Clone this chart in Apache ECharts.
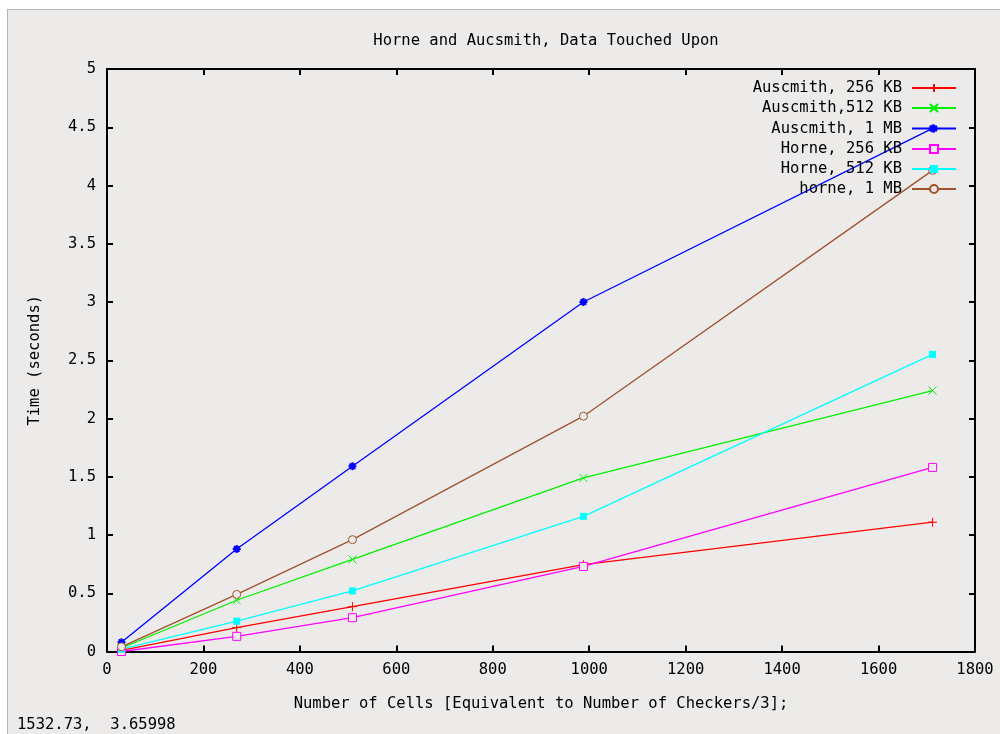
<!DOCTYPE html>
<html>
<head>
<meta charset="utf-8">
<script src="https://cdn.jsdelivr.net/npm/echarts@6/dist/echarts.min.js"></script>
<style>
html,body{margin:0;padding:0;background:#fff;}
#frame{position:absolute;left:7px;top:9px;width:993px;height:725px;box-sizing:border-box;border-left:1px solid #b4b4b4;border-top:1px solid #b4b4b4;background:#ECEBE9;}
#chart{position:absolute;left:0;top:0;width:1000px;height:734px;}
</style>
</head>
<body>
<div id="frame"></div>
<div id="chart"></div>
<script>
const FONT = '"DejaVu Sans Mono", "Liberation Mono", monospace';
const FS = 15.5;
const BG = '#ECEBE9';

const titleText = 'Horne and Aucsmith, Data Touched Upon';
const xAxisName = 'Number of Cells [Equivalent to Number of Checkers/3];';
const yAxisName = 'Time (seconds)';
const statusText = '1532.73,  3.65998';

const cells = [30, 269, 509, 988, 1712];
const seriesNames = ['Auscmith, 256 KB', 'Auscmith,512 KB', 'Auscmith, 1 MB', 'Horne, 256 KB', 'Horne, 512 KB', 'horne, 1 MB'];
const auscmith256 = [0.01, 0.205, 0.385, 0.745, 1.11];
const auscmith512 = [0.03, 0.44, 0.79, 1.49, 2.24];
const auscmith1mb = [0.08, 0.88, 1.59, 3.00, 4.49];
const horne256 = [0.0, 0.13, 0.29, 0.73, 1.58];
const horne512 = [0.02, 0.26, 0.52, 1.16, 2.55];
const horne1mb = [0.04, 0.49, 0.96, 2.02, 4.13];
const allValues = [auscmith256, auscmith512, auscmith1mb, horne256, horne512, horne1mb];

const colors = ['#FF0000', '#00F000', '#0000FF', '#FF00FF', '#00FFFF', '#A0522D'];
const symbols = [
  {symbol: 'path://M0,5L10,5M5,0L5,10', size: 9, fill: colors[0], bw: 1},
  {symbol: 'path://M0,0L10,10M10,0L0,10', size: 8, fill: colors[1], bw: 1},
  {symbol: 'path://M0,5L10,5M5,0L5,10M1.5,1.5L8.5,8.5M8.5,1.5L1.5,8.5', size: 8, fill: colors[2], bw: 2},
  {symbol: 'rect', size: 8, fill: BG, bw: 1},
  {symbol: 'rect', size: 7, fill: colors[4], bw: 0},
  {symbol: 'circle', size: 8, fill: BG, bw: 1}
];
const legendRows = [87, 107, 127.5, 148, 168, 188];

const axisLine = {onZero: false, lineStyle: {color: '#000', width: 2}};
const axisTick = {inside: true, length: 6, lineStyle: {color: '#000', width: 2}};
const labelStyle = {color: '#000', fontFamily: FONT, fontSize: FS};

const series = seriesNames.map((name, i) => ({
  name: name,
  type: 'line',
  data: cells.map((x, j) => [x, allValues[i][j]]),
  symbol: symbols[i].symbol,
  symbolSize: symbols[i].size,
  showAllSymbol: true,
  itemStyle: {color: symbols[i].fill, borderColor: colors[i], borderWidth: symbols[i].bw},
  lineStyle: {color: colors[i], width: 1.3},
  emphasis: {disabled: true}
}));

const legends = seriesNames.map((name, i) => ({
  data: [name],
  right: 43,
  top: legendRows[i] - 7,
  padding: 0,
  align: 'right',
  itemWidth: 44,
  itemHeight: 10,
  selectedMode: false,
  textStyle: {color: '#000', fontFamily: FONT, fontSize: FS, lineHeight: 14, padding: [0, 5, 0, 0]}
}));

const chart = echarts.init(document.getElementById('chart'), null, {renderer: 'canvas'});
chart.setOption({
  animation: false,
  backgroundColor: 'transparent',
  title: {
    text: titleText, left: 541, top: 28, textAlign: 'center',
    textStyle: {color: '#000', fontFamily: FONT, fontSize: FS, fontWeight: 'normal'}
  },
  legend: legends,
  grid: {left: 107, top: 69, width: 868, height: 582.5, containLabel: false},
  xAxis: [
    {type: 'value', min: 0, max: 1800, interval: 200, position: 'bottom',
     axisLine: axisLine, axisTick: axisTick, splitLine: {show: false},
     axisLabel: Object.assign({margin: 10, formatter: v => String(v)}, labelStyle),
     name: xAxisName, nameLocation: 'middle', nameGap: 44,
     nameTextStyle: labelStyle},
    {type: 'value', min: 0, max: 1800, interval: 200, position: 'top',
     axisLine: axisLine, axisTick: axisTick, splitLine: {show: false},
     axisLabel: {show: false}}
  ],
  yAxis: [
    {type: 'value', min: 0, max: 5, interval: 0.5, position: 'left',
     axisLine: axisLine, axisTick: axisTick, splitLine: {show: false},
     axisLabel: Object.assign({margin: 11, formatter: v => String(v)}, labelStyle),
     name: yAxisName, nameLocation: 'middle', nameGap: 64,
     nameTextStyle: labelStyle},
    {type: 'value', min: 0, max: 5, interval: 0.5, position: 'right',
     axisLine: axisLine, axisTick: axisTick, splitLine: {show: false},
     axisLabel: {show: false}}
  ],
  graphic: [
    {type: 'text', left: 17, top: 717,
     style: {text: statusText, font: FS + 'px ' + FONT, fill: '#000'}}
  ],
  series: series
});
</script>
</body>
</html>
